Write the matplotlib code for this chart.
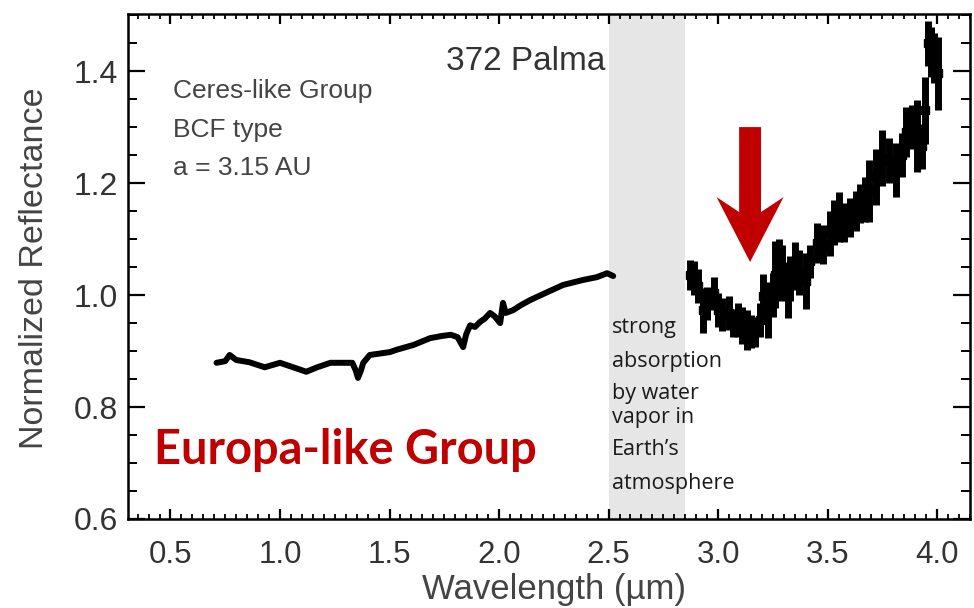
import matplotlib
matplotlib.use("Agg")
import matplotlib.pyplot as plt
from matplotlib.patches import FancyArrow
from matplotlib.ticker import MultipleLocator, FormatStrFormatter

plt.rcParams['font.family'] = ['Liberation Sans', 'DejaVu Sans']

# visible / near-IR part of the spectrum (line)
wl_vis = [0.71, 0.75, 0.77, 0.80, 0.86, 0.93, 1.00, 1.06, 1.12, 1.17, 1.23, 1.29,
          1.33, 1.345, 1.356, 1.37, 1.38, 1.41, 1.50, 1.53, 1.61, 1.685, 1.74,
          1.78, 1.81, 1.836, 1.85, 1.868, 1.89, 1.913, 1.935, 1.959, 1.98, 2.005,
          2.018, 2.03, 2.064, 2.10, 2.142, 2.219, 2.292, 2.384, 2.447, 2.493, 2.521]
refl_vis = [0.879, 0.882, 0.893, 0.884, 0.880, 0.871, 0.879, 0.871, 0.863, 0.871,
            0.879, 0.879, 0.879, 0.866, 0.852, 0.866, 0.879, 0.893, 0.898, 0.902,
            0.911, 0.923, 0.927, 0.929, 0.925, 0.907, 0.930, 0.946, 0.943, 0.952,
            0.958, 0.968, 0.962, 0.950, 0.986, 0.968, 0.973, 0.982, 0.991, 1.005,
            1.018, 1.027, 1.032, 1.039, 1.034]

# 3 micron part (noisy points with error bars)
wl_ir = [2.87, 2.89, 2.91, 2.93, 2.95, 2.98, 3.00, 3.02, 3.05, 3.07, 3.09, 3.11,
         3.13, 3.15, 3.17, 3.19, 3.205, 3.23, 3.25, 3.26, 3.28, 3.29, 3.32, 3.33,
         3.35, 3.37, 3.40, 3.42, 3.45, 3.48, 3.51, 3.53, 3.55, 3.575, 3.60, 3.63,
         3.65, 3.67, 3.69, 3.72, 3.75, 3.78, 3.81, 3.84, 3.86, 3.885, 3.91, 3.93,
         3.945, 3.96, 3.97, 3.985, 4.005]
refl_ir = [1.036, 1.030, 1.016, 0.973, 0.985, 1.003, 0.973, 0.965, 0.968, 0.950,
           0.955, 0.946, 0.938, 0.935, 0.934, 0.955, 0.998, 0.973, 1.000, 1.036,
           1.050, 1.040, 1.009, 1.030, 1.052, 1.040, 1.025, 1.060, 1.093, 1.090,
           1.110, 1.130, 1.139, 1.130, 1.139, 1.150, 1.164, 1.170, 1.186, 1.210,
           1.245, 1.240, 1.223, 1.250, 1.291, 1.300, 1.284, 1.266, 1.330, 1.450,
           1.434, 1.423, 1.396]
err_ir = [0.027, 0.030, 0.030, 0.040, 0.030, 0.030, 0.030, 0.030, 0.030, 0.025,
          0.030, 0.033, 0.036, 0.030, 0.027, 0.030, 0.040, 0.050, 0.040, 0.060,
          0.050, 0.050, 0.050, 0.040, 0.043, 0.040, 0.050, 0.030, 0.035, 0.035,
          0.040, 0.040, 0.045, 0.035, 0.035, 0.035, 0.035, 0.040, 0.055, 0.050,
          0.050, 0.040, 0.048, 0.040, 0.045, 0.040, 0.065, 0.040, 0.060, 0.040,
          0.045, 0.045, 0.065]

band = (2.5, 2.85)
note_lines = ["strong", "absorption", "by water", "vapor in", "Earth\u2019s", "atmosphere"]
note_base_px = [333, 367, 399, 423, 455, 489]

fig = plt.figure(figsize=(9.74, 6.08), dpi=100)
ax = fig.add_axes([128 / 974, 89 / 608, 842 / 974, 505 / 608])

ax.axvspan(band[0], band[1], color='#e6e6e6', lw=0, zorder=0)
ax.plot(wl_vis, refl_vis, color='black', lw=4.3, solid_joinstyle='round',
        solid_capstyle='round', zorder=3)
ax.errorbar(wl_ir, refl_ir, yerr=err_ir, fmt='s', ms=6, color='black',
            ecolor='black', elinewidth=5, capsize=0, zorder=3)

ax.set_xlim(0.306, 4.15)
ax.set_ylim(0.6, 1.502)
ax.xaxis.set_major_locator(MultipleLocator(0.5))
ax.xaxis.set_minor_locator(MultipleLocator(0.05))
ax.yaxis.set_major_locator(MultipleLocator(0.2))
ax.yaxis.set_minor_locator(MultipleLocator(0.05))
ax.xaxis.set_major_formatter(FormatStrFormatter('%.1f'))
ax.yaxis.set_major_formatter(FormatStrFormatter('%.1f'))

ax.tick_params(axis='y', which='major', direction='in', length=12, width=1.6,
               left=True, right=True, labelsize=23, labelcolor='#333333', pad=7)
ax.tick_params(axis='y', which='minor', direction='in', length=6.5, width=1.4,
               left=True, right=True)
ax.tick_params(axis='x', which='major', direction='in', length=7, width=1.6,
               bottom=True, top=True, labelsize=22.5, labelcolor='#333333', pad=15)
ax.tick_params(axis='x', which='minor', direction='in', length=3.6, width=1.3,
               bottom=True, top=True)
for s in ax.spines.values():
    s.set_linewidth(1.8)

fig.text(35 / 974, 1 - 268 / 608, 'Normalized Reflectance', rotation=90,
         ha='center', va='center', fontsize=24.5, color='#444444')
fig.text(554 / 974, 1 - 589 / 608, 'Wavelength (\u00b5m)', ha='center',
         va='center', fontsize=25, color='#444444')

fig.text(526 / 974, 1 - 61 / 608, '372 Palma', ha='center', va='center',
         fontsize=24, color='#333333')
for txt, py in zip(['Ceres-like Group', 'BCF type', 'a = 3.15 AU'], [91, 130, 168]):
    fig.text(173 / 974, 1 - py / 608, txt, ha='left', va='center',
             fontsize=19, color='#444444')

fig.text(154 / 974, 1 - 464 / 608, 'Europa-like Group', ha='left', va='baseline',
         fontsize=33.8, fontweight='bold', color='#c00000', family='Lato')

for txt, py in zip(note_lines, note_base_px):
    fig.text(612 / 974, 1 - py / 608, txt, ha='left', va='baseline',
             fontsize=15.5, color='#1a1a1a', family='Open Sans')

# red arrow pointing at the 3 micron band
ax.add_patch(FancyArrow(3.146, 1.30, 0, -0.241, width=0.1, head_width=0.306,
                        head_length=0.116, overhang=0.23, length_includes_head=True,
                        color='#c00000', lw=0, zorder=4))

fig.savefig('out.png', dpi=100)
